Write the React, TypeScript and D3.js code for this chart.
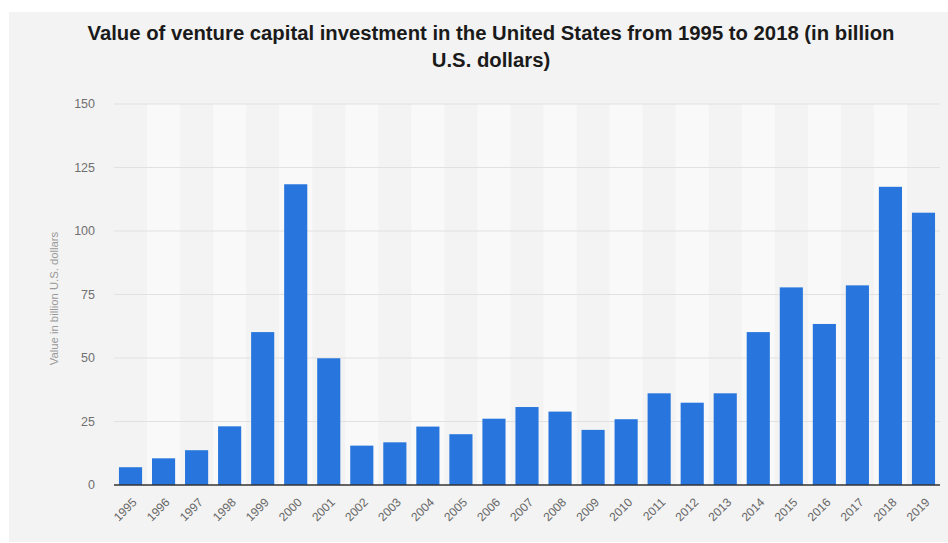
import { useEffect, useRef } from 'react';
import * as d3 from 'd3';

const years = [
  '1995', '1996', '1997', '1998', '1999', '2000', '2001', '2002', '2003', '2004',
  '2005', '2006', '2007', '2008', '2009', '2010', '2011', '2012', '2013', '2014',
  '2015', '2016', '2017', '2018', '2019',
];
const values = [
  7, 10.5, 13.7, 23.1, 60.2, 118.4, 49.9, 15.5, 16.8, 23.0,
  20.0, 26.1, 30.7, 28.9, 21.7, 25.9, 36.1, 32.4, 36.1, 60.2,
  77.8, 63.4, 78.6, 117.4, 107.2,
];
const yTicks = [0, 25, 50, 75, 100, 125, 150];
const titleLines = [
  'Value of venture capital investment in the United States from 1995 to 2018 (in billion',
  'U.S. dollars)',
];
const yTitle = 'Value in billion U.S. dollars';

const W = 948;
const H = 543;

export default function App() {
  const svgRef = useRef<SVGSVGElement>(null);

  useEffect(() => {
    if (!svgRef.current) return;
    const svg = d3.select(svgRef.current);
    svg.selectAll('*').remove();

    const margin = { top: 104, right: 8, bottom: 58, left: 114 };
    const innerWidth = W - margin.left - margin.right;
    const innerHeight = H - margin.top - margin.bottom;

    // page background
    svg.append('rect')
      .attr('x', 9).attr('y', 12)
      .attr('width', W - 9).attr('height', 530)
      .attr('fill', '#f3f3f3');

    // title
    svg.append('g')
      .selectAll('text')
      .data(titleLines)
      .enter()
      .append('text')
      .attr('x', 491)
      .attr('y', (_, i) => 40 + i * 27)
      .attr('text-anchor', 'middle')
      .attr('font-family', 'Liberation Sans, Arial, sans-serif')
      .attr('font-weight', 'bold')
      .attr('font-size', 20.3)
      .attr('fill', '#1a1a1a')
      .text(d => d);

    const x = d3.scaleBand<string>()
      .domain(years)
      .range([0, innerWidth])
      .paddingInner(0.3)
      .paddingOuter(0.15);

    const xCol = d3.scaleBand<string>()
      .domain(years)
      .range([0, innerWidth]);

    const y = d3.scaleLinear()
      .domain([0, 150])
      .range([innerHeight, 0]);

    const g = svg.append('g')
      .attr('transform', `translate(${margin.left},${margin.top})`);

    // alternating column stripes
    g.selectAll('rect.stripe')
      .data(years.filter((_, i) => i % 2 === 1))
      .enter()
      .append('rect')
      .attr('class', 'stripe')
      .attr('x', d => xCol(d) as number)
      .attr('y', 0)
      .attr('width', xCol.bandwidth())
      .attr('height', innerHeight)
      .attr('fill', '#f9f9f9');

    // gridlines
    g.selectAll('line.grid')
      .data(yTicks.filter(t => t > 0))
      .enter()
      .append('line')
      .attr('class', 'grid')
      .attr('x1', 0)
      .attr('x2', innerWidth)
      .attr('y1', d => y(d))
      .attr('y2', d => y(d))
      .attr('stroke', '#e1e1e1')
      .attr('stroke-width', 1);

    // y tick labels
    g.selectAll('text.ytick')
      .data(yTicks)
      .enter()
      .append('text')
      .attr('class', 'ytick')
      .attr('x', -19)
      .attr('y', d => y(d))
      .attr('dy', '0.35em')
      .attr('text-anchor', 'end')
      .attr('font-family', 'Liberation Sans, Arial, sans-serif')
      .attr('font-size', 12.5)
      .attr('fill', '#707070')
      .text(d => d);

    // bars
    g.selectAll('rect.bar')
      .data(years)
      .enter()
      .append('rect')
      .attr('class', 'bar')
      .attr('x', d => x(d) as number)
      .attr('y', (_, i) => y(values[i]))
      .attr('width', x.bandwidth())
      .attr('height', (_, i) => innerHeight - y(values[i]))
      .attr('fill', '#2876dd');

    // baseline
    g.append('line')
      .attr('x1', 0)
      .attr('x2', innerWidth)
      .attr('y1', innerHeight)
      .attr('y2', innerHeight)
      .attr('stroke', '#333')
      .attr('stroke-width', 1.5);

    // x labels
    g.selectAll('text.xtick')
      .data(years)
      .enter()
      .append('text')
      .attr('class', 'xtick')
      .attr('text-anchor', 'end')
      .attr('transform', d => {
        const cx = (x(d) as number) + x.bandwidth() / 2 + 7;
        return `translate(${cx},${innerHeight + 18}) rotate(-45)`;
      })
      .attr('font-family', 'Liberation Sans, Arial, sans-serif')
      .attr('font-size', 12)
      .attr('fill', '#666')
      .text(d => d);

    // y axis title
    svg.append('text')
      .attr('transform', `translate(58,${margin.top + innerHeight / 2 + 4}) rotate(-90)`)
      .attr('text-anchor', 'middle')
      .attr('font-family', 'Liberation Sans, Arial, sans-serif')
      .attr('font-size', 11.3)
      .attr('fill', '#999')
      .text(yTitle);
  }, []);

  return (
    <svg
      ref={svgRef}
      width={W}
      height={H}
      style={{ position: 'absolute', left: 0, top: 0, background: '#fff' }}
    />
  );
}
